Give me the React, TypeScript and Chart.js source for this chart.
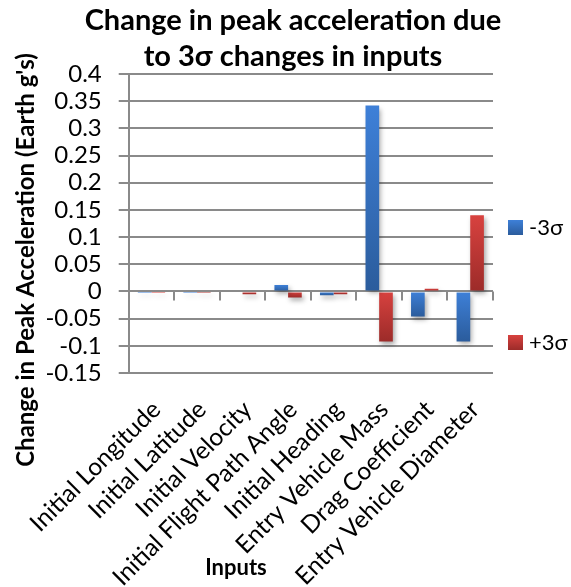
import { useEffect, useRef } from "react";
import { Chart, registerables } from "chart.js";

Chart.register(...registerables);

// Inputs varied in the sensitivity study
const categories = [
  "Initial Longitude",
  "Initial Latitude",
  "Initial Velocity",
  "Initial Flight Path Angle",
  "Initial Heading",
  "Entry Vehicle Mass",
  "Drag Coefficient",
  "Entry Vehicle Diameter",
];

// Change in peak acceleration (Earth g's) for each input shifted by -3σ / +3σ
const minusThreeSigma = [-0.001, -0.001, 0, 0.012, -0.007, 0.342, -0.046, -0.092];
const plusThreeSigma = [-0.001, -0.003, -0.005, -0.011, -0.005, -0.092, 0.005, 0.14];

const seriesLabels = ["-3σ", "+3σ"];

const yMin = -0.15;
const yMax = 0.4;
const yStep = 0.05;

const titleLines = ["Change in peak acceleration due", "to 3σ changes in inputs"];
const yAxisTitle = "Change in Peak Acceleration (Earth g's)";
const xAxisTitle = "Inputs";

const FONT = "Lato, 'Open Sans', sans-serif";
const GRID = "#8a8a8a";

const BLUE = { light: "#3e80d8", dark: "#2b5c9c" };
const RED = { light: "#d8423f", dark: "#9c2b29" };

function barFill(c: { light: string; dark: string }) {
  return (ctx: any) => {
    const chart = ctx.chart;
    const y = chart.scales && chart.scales.y;
    if (ctx.type !== "data" || !y || !chart.chartArea) return c.light;
    const v = ctx.raw as number;
    const a = y.getPixelForValue(0);
    const b = y.getPixelForValue(v);
    const top = Math.min(a, b);
    const bot = Math.max(a, b);
    if (bot - top < 1) return c.light;
    const g = chart.ctx.createLinearGradient(0, top, 0, bot);
    g.addColorStop(0, c.light);
    g.addColorStop(1, c.dark);
    return g;
  };
}

function legendFill(ctx: CanvasRenderingContext2D, c: { light: string; dark: string }, y0: number, h: number) {
  const g = ctx.createLinearGradient(0, y0, 0, y0 + h);
  g.addColorStop(0, c.light);
  g.addColorStop(1, c.dark);
  return g;
}

// Axis tick marks at category boundaries hanging from the zero line
const zeroTicks = {
  id: "zeroTicks",
  beforeDatasetsDraw(chart: any) {
    const { ctx, scales } = chart;
    const x = scales.x;
    const y0 = scales.y.getPixelForValue(0);
    const n = categories.length;
    const w = (x.right - x.left) / n;
    ctx.save();
    ctx.strokeStyle = GRID;
    ctx.lineWidth = 2;
    ctx.beginPath();
    for (let i = 1; i <= n; i++) {
      const px = Math.round(x.left + w * i);
      ctx.moveTo(px, y0);
      ctx.lineTo(px, y0 + 9);
    }
    ctx.stroke();
    ctx.restore();
  },
};

// Soft drop shadow under the bars
const barShadow = {
  id: "barShadow",
  beforeDatasetsDraw(chart: any) {
    const ctx = chart.ctx;
    ctx.save();
    ctx.shadowColor = "rgba(0,0,0,0.35)";
    ctx.shadowBlur = 5;
    ctx.shadowOffsetX = 2;
    ctx.shadowOffsetY = 3;
  },
  afterDatasetsDraw(chart: any) {
    chart.ctx.restore();
  },
};

// Titles and the side legend
const annotations = {
  id: "annotations",
  afterDraw(chart: any) {
    const ctx: CanvasRenderingContext2D = chart.ctx;
    ctx.save();
    ctx.fillStyle = "#000";

    ctx.font = `bold 29px ${FONT}`;
    ctx.textAlign = "center";
    ctx.textBaseline = "alphabetic";
    ctx.fillText(titleLines[0], 293, 30);
    ctx.fillText(titleLines[1], 293, 66);

    ctx.font = `bold 22px ${FONT}`;
    ctx.fillText(xAxisTitle, 236, 575);

    ctx.save();
    ctx.font = `bold 24px ${FONT}`;
    ctx.translate(34, 260);
    ctx.rotate(-Math.PI / 2);
    ctx.fillText(yAxisTitle, 0, 0);
    ctx.restore();

    const items = [
      { label: seriesLabels[0], c: BLUE, y: 220 },
      { label: seriesLabels[1], c: RED, y: 335 },
    ];
    ctx.font = `22px ${FONT}`;
    ctx.textAlign = "left";
    ctx.textBaseline = "middle";
    for (const it of items) {
      ctx.fillStyle = legendFill(ctx, it.c, it.y, 15);
      ctx.fillRect(508, it.y, 15, 15);
      ctx.fillStyle = "#000";
      ctx.fillText(it.label, 529, it.y + 8);
    }
    ctx.restore();
  },
};

export default function App() {
  const ref = useRef<HTMLCanvasElement | null>(null);

  useEffect(() => {
    if (!ref.current) return;
    const chart = new Chart(ref.current, {
      type: "bar",
      data: {
        labels: categories,
        datasets: [
          {
            label: seriesLabels[0],
            data: minusThreeSigma,
            backgroundColor: barFill(BLUE),
            borderWidth: 0,
          },
          {
            label: seriesLabels[1],
            data: plusThreeSigma,
            backgroundColor: barFill(RED),
            borderWidth: 0,
          },
        ],
      },
      options: {
        animation: false,
        responsive: true,
        maintainAspectRatio: false,
        layout: { padding: { top: 74, right: 78, left: 0, bottom: 0 } },
        datasets: { bar: { categoryPercentage: 0.6, barPercentage: 1.0 } },
        plugins: {
          legend: { display: false },
          title: { display: false },
          tooltip: { enabled: false },
        },
        scales: {
          x: {
            grid: { display: false, drawTicks: false },
            border: { display: false },
            ticks: {
              autoSkip: false,
              minRotation: 45,
              maxRotation: 45,
              padding: 22,
              labelOffset: 5,
              color: "#000",
              font: { family: FONT, size: 24.5 },
            },
            afterFit(scale: any) {
              scale.height = 214;
            },
          },
          y: {
            min: yMin,
            max: yMax,
            grid: {
              color: GRID,
              lineWidth: 2,
              tickLength: 10,
              tickColor: GRID,
            },
            border: { display: true, color: GRID, width: 2 },
            ticks: {
              stepSize: yStep,
              autoSkip: false,
              padding: 17,
              color: "#000",
              font: { family: FONT, size: 24 },
              callback: (v: any) => String(Number(Number(v).toFixed(2))),
            },
            afterFit(scale: any) {
              scale.width = 120;
            },
          },
        },
      },
      plugins: [zeroTicks, barShadow, annotations],
    });
    return () => chart.destroy();
  }, []);

  return (
    <>
      <style>{"html,body{margin:0;padding:0;overflow:hidden;background:#fff}"}</style>
      <div style={{ position: "relative", width: 571, height: 587 }}>
        <canvas ref={ref} />
      </div>
    </>
  );
}
